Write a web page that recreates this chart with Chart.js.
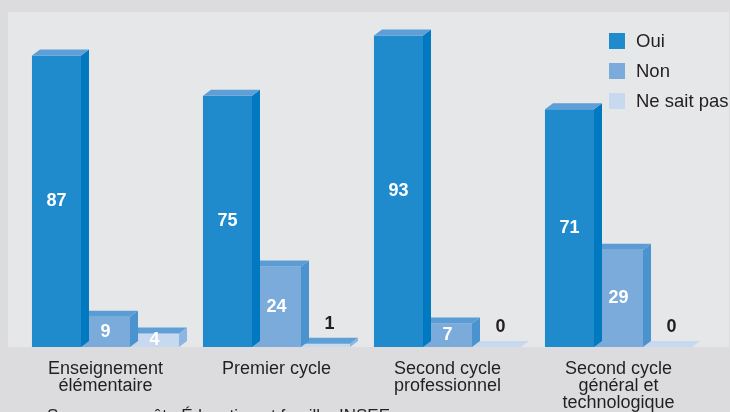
<!DOCTYPE html>
<html>
<head>
<meta charset="utf-8">
<script src="https://cdn.jsdelivr.net/npm/chart.js@4.4.0/dist/chart.umd.min.js"></script>
<style>
    html, body { margin: 0; padding: 0; background: #dcdcde; overflow: hidden; }
    #wrap { width: 730px; height: 412px; }
</style>
</head>
<body>
<div id="wrap"><canvas id="chart" width="730" height="412"></canvas></div>
<script>
// data (%)
const categories = [
    ['Enseignement', 'élémentaire'],
    ['Premier cycle'],
    ['Second cycle', 'professionnel'],
    ['Second cycle', 'général et', 'technologique']
];
const seriesNames = ['Oui', 'Non', 'Ne sait pas'];
const oui = [87, 75, 93, 71];
const non = [9, 24, 7, 29];
const nsp = [4, 1, 0, 0];
const sourceText = 'Source : enquête Éducation et famille, INSEE';

const FONT = "'Liberation Sans', Arial, sans-serif";
const TXT = '#231f20';
// front / side / top colours for each series
const faces = [
    { front: '#1f8bcc', side: '#0079c1', top: '#5e9fd7' },
    { front: '#7aabdb', side: '#4a93cf', top: '#5b9cd5' },
    { front: '#c6d9ef', side: '#8cb5e1', top: '#5e9fd7' }
];
const DX = 8, DY = 6;

const bars3d = {
    id: 'bars3d',
    beforeDraw: function (chart) {
        const ctx = chart.ctx, a = chart.chartArea;
        ctx.save();
        ctx.fillStyle = '#dcdcde';
        ctx.fillRect(0, 0, chart.width, chart.height);
        ctx.fillStyle = '#e6e7e9';
        ctx.fillRect(8, a.top, 721, a.bottom - a.top);
        ctx.restore();
    },
    afterDatasetDraw: function (chart, args) {
        const ctx = chart.ctx;
        const f = faces[args.index];
        ctx.save();
        args.meta.data.forEach(function (bar, i) {
            const l = bar.x - bar.width / 2, r = bar.x + bar.width / 2;
            const t = bar.y, b = bar.base;
            // side face
            ctx.fillStyle = f.side;
            ctx.beginPath();
            ctx.moveTo(r, t);
            ctx.lineTo(r + DX, t - DY);
            ctx.lineTo(r + DX, b - DY);
            ctx.lineTo(r, b);
            ctx.closePath();
            ctx.fill();
            // top face (flat light plate when the value is zero)
            ctx.fillStyle = (b - t) < 0.5 ? f.front : f.top;
            ctx.beginPath();
            ctx.moveTo(l, t);
            ctx.lineTo(l + DX, t - DY);
            ctx.lineTo(r + DX, t - DY);
            ctx.lineTo(r, t);
            ctx.closePath();
            ctx.fill();
        });
        ctx.restore();
    },
    afterDraw: function (chart) {
        const ctx = chart.ctx, a = chart.chartArea;
        ctx.save();
        // value labels
        ctx.beginPath();
        ctx.rect(0, 0, chart.width, a.bottom);
        ctx.clip();
        ctx.font = 'bold 18px ' + FONT;
        ctx.textAlign = 'center';
        ctx.textBaseline = 'middle';
        chart.data.datasets.forEach(function (ds, di) {
            chart.getDatasetMeta(di).data.forEach(function (bar, i) {
                const v = ds.data[i];
                if (v > 1) {
                    ctx.fillStyle = '#ffffff';
                    ctx.fillText(v, bar.x, (bar.y + bar.base) / 2);
                } else {
                    ctx.fillStyle = TXT;
                    ctx.fillText(v, bar.x + 4, bar.y - 20);
                }
            });
        });
        ctx.restore();

        // legend
        ctx.save();
        ctx.font = '18.5px ' + FONT;
        ctx.textBaseline = 'middle';
        ctx.textAlign = 'left';
        chart.data.datasets.forEach(function (ds, di) {
            const y = 33 + di * 30;
            ctx.fillStyle = ds.backgroundColor;
            ctx.fillRect(609, y, 16, 16);
            ctx.fillStyle = TXT;
            ctx.fillText(ds.label, 636, y + 9);
        });
        // source line (cut by the bottom edge)
        ctx.font = '17px ' + FONT;
        ctx.textBaseline = 'top';
        ctx.fillText(sourceText, 47, 408);
        ctx.restore();
    }
};

new Chart(document.getElementById('chart'), {
    type: 'bar',
    data: {
        labels: categories,
        datasets: [
            { label: seriesNames[0], data: oui, backgroundColor: faces[0].front },
            { label: seriesNames[1], data: non, backgroundColor: faces[1].front },
            { label: seriesNames[2], data: nsp, backgroundColor: faces[2].front }
        ].map(function (d) {
            d.categoryPercentage = 0.86;
            d.barPercentage = 1.0;
            d.borderWidth = 0;
            return d;
        })
    },
    options: {
        responsive: false,
        animation: false,
        devicePixelRatio: 1,
        layout: { padding: { left: 20, right: 26, top: 12, bottom: 0 } },
        plugins: {
            legend: { display: false },
            tooltip: { enabled: false }
        },
        scales: {
            x: {
                grid: { display: false, drawTicks: false },
                border: { display: false },
                ticks: {
                    padding: 13,
                    color: TXT,
                    maxRotation: 0,
                    autoSkip: false,
                    font: { family: FONT, size: 18, lineHeight: 0.95 }
                },
                afterFit: function (scale) { scale.height = 65; }
            },
            y: { display: false, min: 0, max: 100 }
        }
    },
    plugins: [bars3d]
});
</script>
</body>
</html>
